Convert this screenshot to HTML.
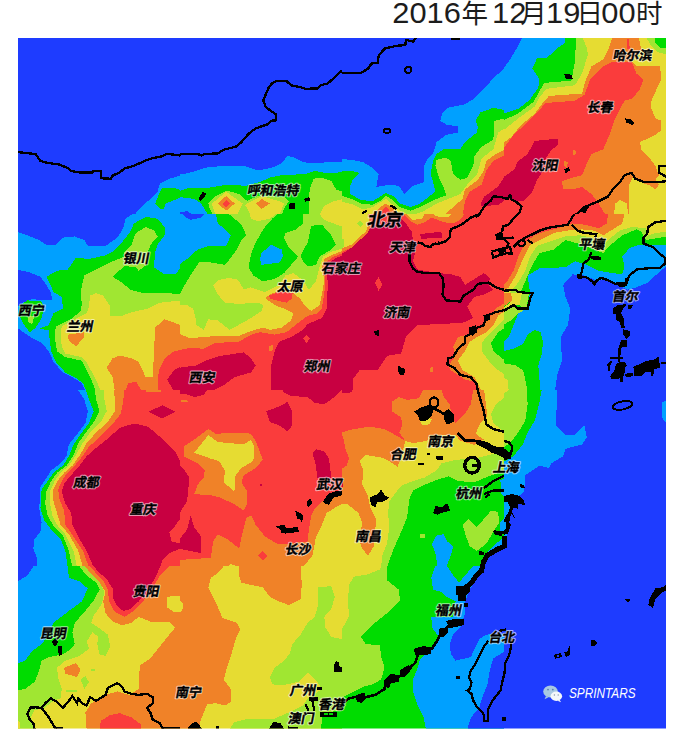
<!DOCTYPE html>
<html lang="zh"><head><meta charset="utf-8"><title>SPRINTARS 2016年12月19日00时</title>
<style>
html,body{margin:0;padding:0;background:#fff}
body{width:685px;height:744px;overflow:hidden;position:relative}
svg{display:block}
.t{font-family:"Liberation Sans","Noto Sans CJK SC",sans-serif;}
.lh,.lf{font-family:"Liberation Sans","Noto Sans CJK SC",sans-serif;font-weight:bold;font-size:13px}
.lh{fill:#fff;fill-opacity:.6;stroke:#fff;stroke-opacity:.6;stroke-width:2.4px;stroke-linejoin:round}
.lf{fill:#000;stroke:#000;stroke-width:.4px;stroke-linejoin:round}
.lbig{font-size:17.6px}
</style></head><body>
<svg width="685" height="744" viewBox="0 0 685 744">
<rect width="685" height="744" fill="#fff"/>
<defs><clipPath id="mapclip"><rect x="18" y="38" width="648" height="690.6"/></clipPath></defs>
<g clip-path="url(#mapclip)" shape-rendering="crispEdges">
<!-- tile 0,0 -->
<svg x="18" y="38" width="162" height="176" viewBox="0 0 685 744" preserveAspectRatio="none" overflow="hidden">
<rect x="-5" y="-5" width="695" height="754" fill="#1e3cff"/>
<polygon fill="#00a0ff" points="490,750 520,715 560,680 590,650 600,615 640,595 690,580 690,750"/>
<polygon fill="#00dc00" points="580,700 600,650 610,635 660,632 690,645 690,672 650,690 625,700 615,725 600,720"/>
<polyline fill="none" stroke="#000" stroke-width="9.8" points="-5,482 45,487 75,492 95,520 125,528 175,535 210,550 225,562 260,568 315,568 320,561 350,561 352,593 392,595 400,582 430,568 450,552 490,540 540,518 570,508 610,500 630,490 650,492 690,497"/>
</svg>
<!-- tile 1,0 -->
<svg x="180" y="38" width="162" height="176" viewBox="0 0 685 744" preserveAspectRatio="none" overflow="hidden">
<rect x="-5" y="-5" width="695" height="754" fill="#1e3cff"/>
<polygon fill="#00a0ff" points="-5,578 40,570 110,548 190,540 270,540 330,560 390,548 430,530 455,498 480,505 520,525 570,530 620,525 690,522 690,750 -5,750"/>
<polygon fill="#00dc00" points="-5,648 40,632 110,635 200,620 280,625 340,608 380,590 430,580 530,575 570,562 610,570 650,572 690,565 690,750 -5,750"/>
<polygon fill="#00a0ff" points="-5,672 60,680 90,700 120,750 -5,750"/>
<polygon fill="#1e3cff" points="-5,738 30,732 60,750 -5,750"/>
<polygon fill="#a0e632" points="120,700 150,670 200,645 250,660 285,690 300,680 340,665 400,670 440,672 460,690 440,720 430,750 140,750 125,720"/>
<polygon fill="#e6dc32" points="135,700 195,650 265,700 240,750 150,750"/>
<polygon fill="#f08228" points="160,700 195,668 232,700 195,730"/>
<polygon fill="#fa3c3c" points="180,700 195,685 212,700 195,715"/>
<polygon fill="#e6dc32" points="275,705 345,668 420,690 440,700 420,750 300,750"/>
<polygon fill="#f08228" points="322,700 345,680 380,700 345,722"/>
<polygon fill="#a0e632" points="545,750 548,640 565,595 600,590 640,605 660,640 690,650 690,750"/>
<polygon fill="#e6dc32" points="590,750 610,710 650,690 690,680 690,750"/>
<polyline fill="none" stroke="#000" stroke-width="9.8" points="-5,492 75,490 90,497 105,490 160,488 185,472 235,460 260,440 290,405 320,382 370,365 385,350 405,348 405,322 380,305 362,290 352,265 362,240 375,210 390,190 410,182 450,182 470,200 510,208 530,215 580,213 595,200 625,192 650,170 670,150 690,135"/>
<polygon fill="#000" points="78,678 95,652 110,655 105,672 88,690"/>
<polygon fill="#000" points="462,700 485,698 487,722 462,722"/>
<polygon fill="#000" points="525,680 545,672 552,688 530,692"/>
</svg>
<!-- tile 2,0 -->
<svg x="342" y="38" width="162" height="176" viewBox="0 0 685 744" preserveAspectRatio="none" overflow="hidden">
<rect x="-5" y="-5" width="695" height="754" fill="#1e3cff"/>
<polygon fill="#00a0ff" points="-5,512 40,515 90,525 130,550 155,575 145,630 200,620 240,625 265,660 300,625 345,610 345,545 360,515 385,490 400,440 440,410 490,400 490,372 445,368 415,350 425,315 445,295 520,280 560,255 600,215 640,170 690,125 690,750 -5,750"/>
<polygon fill="#00dc00" points="-5,560 40,562 75,570 45,600 35,625 35,660 80,685 130,690 185,655 220,670 245,700 290,715 330,700 375,665 395,650 385,610 375,575 385,520 400,490 430,470 500,470 520,440 570,400 575,375 565,350 585,315 640,295 690,305 690,750 -5,750"/>
<polygon fill="#a0e632" points="-5,665 40,680 80,700 130,705 160,690 185,665 220,690 245,715 290,730 340,710 400,680 440,665 430,630 410,590 395,540 400,515 440,505 460,520 470,575 500,600 530,590 555,540 560,500 590,460 640,430 645,350 690,340 690,750 -5,750"/>
<polygon fill="#e6dc32" points="-5,690 50,705 90,725 130,715 185,680 215,705 245,730 290,750 340,735 400,700 450,680 500,660 530,620 570,580 590,510 640,470 660,400 690,380 690,750 -5,750"/>
<polygon fill="#f08228" points="130,750 160,715 185,700 215,720 235,750"/>
<polygon fill="#fa3c3c" points="150,750 185,712 220,750"/>
<polygon fill="#f08228" points="430,750 470,715 510,680 520,640 575,600 600,560 610,520 650,490 690,470 690,750"/>
<polygon fill="#fa3c3c" points="510,750 520,690 540,650 590,620 610,560 640,520 690,495 690,750"/>
<polygon fill="#c80041" points="587,700 603,669 629,651 659,628 681,595 690,590 690,686 659,706 629,708 600,712 587,708"/>
<polyline fill="none" stroke="#000" stroke-width="9.8" points="-5,148 80,148 110,130 125,108 150,105 155,75 180,45 230,33 268,30 270,8 300,15 318,-5"/>
<polyline fill="none" stroke="#000" stroke-width="9.8" points="460,3 497,3"/>
<polyline fill="none" stroke="#000" stroke-width="9.8" points="85,742 105,730"/>
<polyline fill="none" stroke="#000" stroke-width="9.8" points="205,708 230,722"/>
<ellipse cx="280" cy="135" rx="13" ry="13" fill="none" stroke="#000" stroke-width="8"/>
<ellipse cx="190" cy="392" rx="14" ry="9" fill="none" stroke="#000" stroke-width="8"/>
</svg>
<!-- tile 3,0 -->
<svg x="504" y="38" width="162" height="176" viewBox="0 0 685 744" preserveAspectRatio="none" overflow="hidden">
<rect x="-5" y="-5" width="695" height="754" fill="#fa3c3c"/>
<polygon fill="#e6dc32" points="330,-5 690,-5 690,750 525,750 525,600 460,0"/>
<polygon fill="#f08228" points="460,-5 570,-5 580,50 540,100 560,120 660,120 665,175 625,260 620,290 640,340 665,350 665,390 640,410 575,440 580,470 610,500 640,540 655,580 640,600 655,620 640,640 620,625 590,615 545,590 530,620 530,750 200,750 200,300 400,100"/>
<polygon fill="#e6dc32" points="465,750 470,700 490,685 520,700 525,750"/>
<polygon fill="#f08228" points="-5,-5 470,-5 440,60 400,120 365,190 340,250 300,275 175,285 150,320 100,365 40,420 -5,490"/>
<polygon fill="#e6dc32" points="-5,-5 460,-5 440,50 420,90 370,120 345,180 330,235 190,245 160,280 130,320 70,370 30,420 -5,445"/>
<polygon fill="#a0e632" points="-5,-5 330,-5 350,40 355,70 330,150 300,200 180,215 150,250 130,290 60,340 -5,392"/>
<polygon fill="#00dc00" points="-5,-5 305,-5 300,100 285,180 170,190 125,270 60,318 -5,350"/>
<polygon fill="#00a0ff" points="-5,-5 260,-5 260,20 230,40 180,85 140,85 120,130 150,175 145,210 110,260 60,300 -5,320"/>
<polygon fill="#1e3cff" points="-5,-5 80,-5 50,50 20,100 -5,132"/>
<polygon fill="#fa3c3c" points="480,100 540,100 560,150 590,175 575,215 545,255 510,265 490,300 470,340 450,400 420,470 370,490 350,530 330,580 290,590 245,605 250,640 290,640 330,630 370,660 400,700 430,750 -5,750 -5,470 40,410 100,355 150,305 175,275 300,265 340,240 365,175 420,120 460,100"/>
<polygon fill="#fa3c3c" points="518,5 528,5 532,45 520,45"/>
<polygon fill="#c80041" points="-5,590 45,555 55,525 100,490 130,435 230,425 228,450 195,480 170,520 160,570 140,600 120,650 85,688 55,688 25,681 -5,686"/>
<polygon fill="#f08228" points="290,470 305,480 300,497 290,492"/>
<polygon fill="#f08228" points="255,520 270,525 265,548 255,540"/>
<polygon fill="#a0e632" points="600,-5 690,-5 690,70 650,60 620,30"/>
<polygon fill="#00dc00" points="635,-5 690,-5 690,45 660,40 640,20"/>
<polyline fill="none" stroke="#000" stroke-width="9.8" points="300,750 340,715 400,690 440,670 460,640 490,610 510,580 540,570 555,595 590,608 640,610 690,605"/>
<polyline fill="none" stroke="#000" stroke-width="9.8" points="690,540 655,540 655,570 690,588"/>
<polygon fill="#000" points="255,152 285,155 292,175 262,175"/>
<polygon fill="#000" points="510,340 535,342 552,358 545,368 518,358"/>
<polygon fill="#000" points="255,555 275,545 278,560 260,572"/>
<polygon fill="#000" points="325,735 345,705 360,712 345,740"/>
</svg>
<!-- tile 0,1 -->
<svg x="18" y="214" width="162" height="176" viewBox="0 0 685 744" preserveAspectRatio="none" overflow="hidden">
<rect x="-5" y="-5" width="695" height="754" fill="#1e3cff"/>
<polygon fill="#00a0ff" points="-5,75 40,90 90,110 120,130 160,130 190,100 240,95 280,110 295,135 370,135 420,100 445,60 455,20 490,-5 690,-5 690,750 -5,750"/>
<polygon fill="#1e3cff" points="-5,235 45,245 95,265 120,300 140,335 145,365 110,365 60,360 20,375 -5,395"/>
<polygon fill="#1e3cff" points="-5,480 30,505 60,525 100,545 130,580 150,625 190,670 230,690 270,715 285,750 -5,750"/>
<polygon fill="#00dc00" points="490,40 540,12 590,20 620,55 620,90 590,130 580,160 575,225 620,255 665,255 690,225 690,750 290,750 275,715 240,690 200,670 160,625 140,580 135,540 130,490 95,487 95,482 130,470 150,420 190,400 185,350 150,330 135,295 120,265 165,240 210,235 245,185 300,190 370,175 400,160 440,120 475,75"/>
<polygon fill="#00dc00" points="10,385 40,365 100,370 110,395 100,440 75,480 50,500 20,460 5,430"/>
<polygon fill="#a0e632" points="40,435 70,430 60,465 45,460"/>
<polygon fill="#a0e632" points="500,80 540,55 575,70 590,95 560,130 550,160 550,210 510,240 500,225 450,220 400,265 440,290 475,320 530,335 640,335 690,340 690,750 330,750 310,700 290,660 270,620 200,605 165,580 155,520 160,475 190,460 230,440 265,410 270,380 265,330 280,260 330,235 400,200 450,180 450,160 480,130 490,100"/>
<polygon fill="#e6dc32" points="305,345 330,335 360,345 390,390 390,430 440,430 480,415 550,400 600,375 690,365 690,750 350,750 330,700 305,655 290,625 270,605 200,590 185,560 180,500 185,475 215,460 250,440 290,420 300,390"/>
<polygon fill="#f08228" points="210,510 280,500 280,520 245,560 215,535"/>
<polygon fill="#f08228" points="375,650 400,610 430,598 480,610 510,625 540,690 570,690 580,480 620,445 690,470 690,750 410,750 400,690"/>
<polygon fill="#fa3c3c" points="455,750 465,715 500,710 525,750"/>
<polygon fill="#fa3c3c" points="590,750 595,660 620,610 660,580 690,575 690,750"/>
<polygon fill="#c80041" points="630,700 660,660 690,645 690,750 660,750"/>
</svg>
<!-- tile 1,1 -->
<svg x="180" y="214" width="162" height="176" viewBox="0 0 685 744" preserveAspectRatio="none" overflow="hidden">
<rect x="-5" y="-5" width="695" height="754" fill="#a0e632"/>
<polygon fill="#00dc00" points="-5,215 30,190 75,150 120,135 195,135 215,90 185,60 160,40 150,-5 200,-5 230,20 260,45 280,90 260,110 240,150 215,185 190,215 130,205 80,205 50,250 20,300 -5,345"/>
<polygon fill="#00a0ff" points="-5,-5 150,-5 160,40 185,60 215,90 195,135 120,135 75,150 30,190 -5,215"/>
<polygon fill="#1e3cff" points="10,-5 110,-5 90,15 45,25 20,12"/>
<polygon fill="#00dc00" points="355,60 390,20 420,-5 520,-5 520,40 490,65 445,80 440,100 460,140 500,180 470,215 440,250 400,275 350,285 310,260 290,225 300,170 320,120"/>
<polygon fill="#00a0ff" points="345,165 385,130 430,150 435,180 420,205 345,215 338,190"/>
<polygon fill="#00dc00" points="510,175 540,120 555,50 600,45 640,90 660,130 640,150 590,180 575,215 540,222 520,200"/>
<polygon fill="#e6dc32" points="295,-5 410,-5 380,20 330,30 300,20"/>
<polygon fill="#e6dc32" points="585,-5 690,-5 690,55 650,40 610,25"/>
<polygon fill="#e6dc32" points="-5,385 30,385 55,400 65,435 70,470 100,490 120,445 160,450 210,490 250,468 300,440 345,410 352,385 330,375 250,380 190,375 160,340 140,300 160,280 210,270 245,278 270,320 300,310 360,330 420,300 445,260 480,250 520,280 545,320 575,285 590,225 605,180 640,160 690,145 690,750 -5,750"/>
<polygon fill="#f08228" points="-5,505 40,525 100,520 160,515 250,515 300,495 350,480 380,490 430,480 470,450 480,420 440,400 400,385 360,355 390,335 430,325 480,335 510,360 530,390 555,410 590,385 600,340 610,280 600,225 610,190 650,170 690,155 690,750 -5,750"/>
<polygon fill="#fa3c3c" points="-5,575 50,565 100,570 150,545 250,540 300,510 340,500 400,510 450,500 500,460 540,430 580,420 600,400 615,300 610,210 650,180 690,165 690,750 -5,750"/>
<polygon fill="#fa3c3c" points="377,345 424,328 476,336 472,358 450,375 416,367 381,358"/>
<polygon fill="#c80041" points="-5,650 70,640 110,620 170,600 270,585 300,610 320,640 300,670 230,690 190,720 130,750 -5,750"/>
<polygon fill="#c80041" points="385,750 385,640 400,580 420,540 470,520 520,490 540,465 600,440 620,400 625,300 620,215 660,185 690,175 690,750"/>
<polygon fill="#fa3c3c" points="520,525 535,510 550,525 535,545"/>
<polygon fill="#f08228" points="375,560 395,550 395,575 378,580"/>
</svg>
<!-- tile 2,1 -->
<svg x="342" y="214" width="162" height="176" viewBox="0 0 685 744" preserveAspectRatio="none" overflow="hidden">
<rect x="-5" y="-5" width="695" height="754" fill="#fa3c3c"/>
<polygon fill="#c80041" points="-5,170 30,150 60,110 100,80 130,50 250,20 270,40 295,75 300,110 320,120 310,160 300,200 320,235 410,250 460,255 500,265 520,300 560,275 600,250 625,270 620,300 640,320 600,340 560,350 530,390 555,440 510,460 320,470 270,520 250,590 190,600 150,660 75,660 45,700 45,750 -5,750"/>
<polygon fill="#c80041" points="330,85 420,75 425,100 335,105"/>
<polygon fill="#f08228" points="-5,-5 120,-5 125,45 105,85 75,110 45,140 -5,162"/>
<polygon fill="#e6dc32" points="-5,-5 110,-5 115,40 100,75 70,100 40,130 -5,147"/>
<polygon fill="#a0e632" points="65,40 78,28 92,42 78,55"/>
<polygon fill="#a0e632" points="-5,100 10,110 10,140 -5,145"/>
<polygon fill="#f08228" points="255,-5 520,-5 500,25 470,40 430,35 380,15 350,35 320,45 290,30"/>
<polygon fill="#e6dc32" points="265,-5 350,-5 340,20 300,25"/>
<polygon fill="#e6dc32" points="380,-5 470,-5 450,15 400,10"/>
<polygon fill="#f08228" points="690,375 650,400 620,440 590,480 560,500 530,510 490,520 470,560 480,600 450,640 460,660 520,700 560,710 580,750 690,750"/>
<polygon fill="#e6dc32" points="690,410 660,430 640,470 610,500 570,520 540,540 520,580 490,620 510,660 560,690 590,750 690,750"/>
<polygon fill="#a0e632" points="690,440 660,470 620,510 590,545 590,580 620,620 660,660 690,680"/>
<polygon fill="#00dc00" points="690,480 660,500 630,545 640,580 690,620"/>
<polygon fill="#fa3c3c" points="140,290 155,265 170,300 155,325"/>
<polygon fill="#f08228" points="370,650 385,648 385,668 370,668"/>
<polyline fill="none" stroke="#000" stroke-width="9.8" points="590,-5 545,15 505,45 460,65 455,100 440,115 410,125 380,130 375,140 350,135 340,125 320,120"/>
<polyline fill="none" stroke="#000" stroke-width="9.8" points="285,165 285,200 300,230 320,245 360,250 410,250 425,270 430,300 425,340 440,365 500,370 515,345 555,320 575,295 620,290 650,310 690,322"/>
<polyline fill="none" stroke="#000" stroke-width="9.8" points="690,405 650,415 610,430 600,470 560,485 545,505 520,520 520,545 490,570 470,605 450,610 445,635 475,650 500,680 545,690 570,720 575,750"/>
<polyline fill="none" stroke="#000" stroke-width="5" points="395,130 395,118"/>
<polyline fill="none" stroke="#000" stroke-width="5" points="408,128 408,116"/>
<polygon fill="#000" points="135,495 158,490 158,515 140,512"/>
<polygon fill="#000" points="238,640 250,650 268,655 262,680 245,682 238,665"/>
<polygon fill="#000" points="535,480 565,470 572,500 550,515 535,505"/>
<polygon fill="#000" points="598,428 625,420 628,445 605,455"/>
</svg>
<!-- tile 3,1 -->
<svg x="504" y="214" width="162" height="176" viewBox="0 0 685 744" preserveAspectRatio="none" overflow="hidden">
<rect x="-5" y="-5" width="695" height="754" fill="#1e3cff"/>
<polygon fill="#00a0ff" points="-5,-5 690,-5 690,218 640,260 610,290 560,310 520,320 470,290 430,270 400,285 340,260 290,255 250,300 260,350 280,400 270,470 240,520 245,620 225,680 215,750 -5,750"/>
<polygon fill="#00dc00" points="-5,-5 690,-5 690,130 570,130 530,145 500,180 510,220 500,255 460,250 400,240 350,215 300,200 260,225 150,230 100,260 110,330 100,395 60,420 40,470 20,520 -5,545"/>
<polygon fill="#00dc00" points="-5,580 40,570 80,550 100,510 130,490 155,500 165,540 160,590 145,640 150,700 155,750 -5,750"/>
<polygon fill="#a0e632" points="-5,630 50,640 80,660 90,700 100,750 -5,750"/>
<polygon fill="#e6dc32" points="-5,690 15,700 20,750 -5,750"/>
<polygon fill="#a0e632" points="-5,-5 690,-5 690,95 600,110 580,75 560,65 500,90 440,140 420,165 330,130 260,110 210,150 150,165 120,215 100,260 75,320 30,360 -5,380"/>
<polygon fill="#e6dc32" points="-5,-5 690,-5 690,75 640,80 600,95 600,60 540,55 490,70 440,110 420,135 370,100 320,90 260,95 200,115 140,135 110,180 90,240 60,290 20,340 -5,360"/>
<polygon fill="#f08228" points="-5,-5 510,-5 500,40 460,65 420,90 380,70 330,65 270,70 210,80 150,110 110,130 80,190 50,260 20,310 -5,330"/>
<polygon fill="#fa3c3c" points="-5,-5 440,-5 435,40 400,60 340,45 290,40 230,60 170,75 130,90 90,120 60,180 40,240 10,290 -5,300"/>
<polygon fill="#a0e632" points="-5,400 40,385 60,400 100,398 60,420 30,450 -5,470"/>
<polygon fill="#f08228" points="-5,335 40,332 35,365 -5,395"/>
<polygon fill="#e6dc32" points="30,335 80,335 70,385 40,385 -5,400 35,365"/>
<polygon fill="#a0e632" points="75,338 105,340 95,395 65,390"/>
<polyline fill="none" stroke="#000" stroke-width="9.8" points="40,140 62,118 92,99 122,85 152,70 188,58 240,50 270,45 285,20 300,-5"/>
<polyline fill="none" stroke="#000" stroke-width="9.8" points="285,45 310,70 340,80 390,85 385,100"/>
<polyline fill="none" stroke="#000" stroke-width="9.8" points="370,160 360,190 335,210 330,240 320,270 345,265 380,290 410,270 440,280 470,295 500,300 520,290 515,270"/>
<polyline fill="none" stroke="#000" stroke-width="9.8" points="515,300 530,260 560,235 600,230 660,228 680,210 680,185 650,160 630,140 590,125 590,100 605,85 610,55 640,35 690,28"/>
<polyline fill="none" stroke="#000" stroke-width="9.8" points="-5,325 50,320 60,330 120,335 110,360 100,400 60,400 40,385 -5,412"/>
<polygon fill="#000" points="365,178 410,180 410,195 370,192"/>
<polygon fill="#000" points="310,255 330,250 325,275 310,272"/>
<polygon fill="#000" points="370,290 395,285 385,305"/>
<polygon fill="#000" points="470,290 520,285 520,305 490,310"/>
</svg>
<!-- tile 0,2 -->
<svg x="18" y="390" width="162" height="176" viewBox="0 0 685 744" preserveAspectRatio="none" overflow="hidden">
<rect x="-5" y="-5" width="695" height="754" fill="#1e3cff"/>
<polygon fill="#00a0ff" points="250,-5 280,40 295,90 285,140 255,180 215,230 205,280 180,310 140,340 115,380 95,410 90,500 100,560 95,600 70,630 65,670 80,710 80,750 690,750 690,-5"/>
<polygon fill="#00dc00" points="285,-5 300,40 320,90 300,140 270,180 235,230 215,280 190,320 150,350 125,385 100,420 95,500 110,550 140,590 180,630 200,680 210,750 690,750 690,-5"/>
<polygon fill="#a0e632" points="325,-5 330,40 345,90 325,130 290,175 255,225 235,275 205,320 165,350 140,385 120,430 115,480 125,530 150,575 190,615 215,680 230,750 690,750 690,-5"/>
<polygon fill="#e6dc32" points="365,-5 365,40 375,90 350,135 305,180 270,230 245,275 215,320 180,350 155,385 135,430 135,480 145,530 165,570 200,610 235,680 250,750 690,750 690,-5"/>
<polygon fill="#f08228" points="405,-5 410,45 410,90 380,135 330,180 290,225 265,270 230,320 195,350 170,380 150,420 150,470 165,520 180,570 215,610 255,680 275,750 690,750 690,-5"/>
<polygon fill="#fa3c3c" points="450,-5 445,45 435,100 395,150 345,200 300,240 280,270 240,320 205,355 185,385 170,420 175,460 195,510 200,570 235,620 275,680 300,750 690,750 690,-5"/>
<polygon fill="#c80041" points="480,145 430,160 380,205 330,245 290,280 260,320 220,365 195,395 185,430 200,480 225,520 230,570 260,630 290,680 320,750 600,750 610,720 640,690 690,668 690,650 650,640 640,600 660,580 690,538 690,310 665,260 620,215 580,180 550,155 510,145"/>
<polygon fill="#c80041" points="550,92 610,65 665,92 610,120"/>
<polygon fill="#f08228" points="540,-5 605,-5 605,8 540,8"/>
</svg>
<!-- tile 1,2 -->
<svg x="180" y="390" width="162" height="176" viewBox="0 0 685 744" preserveAspectRatio="none" overflow="hidden">
<rect x="-5" y="-5" width="695" height="754" fill="#fa3c3c"/>
<polygon fill="#c80041" points="-5,-5 120,-5 100,20 60,30 20,15 -5,18"/>
<polygon fill="#c80041" points="430,-5 690,-5 640,40 610,60 570,55 540,30 470,25 440,10"/>
<polygon fill="#c80041" points="365,90 430,65 455,50 475,90 475,150 455,175 420,150 380,135"/>
<polygon fill="#c80041" points="560,265 575,250 610,260 630,290 640,370 580,370 575,320"/>
<polygon fill="#c80041" points="-5,315 20,340 40,370 30,470 -5,525"/>
<polygon fill="#c80041" points="-5,635 30,590 45,530 60,580 90,620 90,690 40,680 -5,670"/>
<polygon fill="#f08228" points="15,240 60,210 120,165 150,185 260,180 300,185 320,215 350,295 320,330 270,360 260,390 285,430 285,480 270,510 225,480 170,455 130,445 60,440 75,400 100,370 105,340 75,310 15,280"/>
<polygon fill="#e6dc32" points="60,265 120,190 160,220 270,230 300,210 315,240 310,300 260,330 235,360 230,430 185,390 190,340 165,300 130,290"/>
<polygon fill="#f08228" points="-5,750 -5,720 40,715 130,710 140,640 160,610 200,630 250,670 265,600 280,540 300,530 320,570 360,620 410,650 450,650 540,640 545,590 555,530 570,500 600,470 640,455 690,440 690,750"/>
<polygon fill="#e6dc32" points="520,750 560,700 575,620 600,570 620,520 660,495 690,480 690,750"/>
<polygon fill="#e6dc32" points="200,750 215,735 250,750"/>
<polygon fill="#fa3c3c" points="330,700 350,680 370,700 350,720"/>
<polygon fill="#f08228" points="5,40 35,45 35,52 5,50"/>
<polygon fill="#c80041" points="338,397 348,397 348,407 338,407"/>
<polygon fill="#000" points="540,465 555,460 557,480 542,495 535,485"/>
<polygon fill="#000" points="488,512 500,515 522,530 515,562 508,545 495,545"/>
<polygon fill="#000" points="403,578 440,568 450,585 500,578 502,600 445,607 428,605 425,590"/>
<polygon fill="#000" points="605,470 625,440 650,430 685,425 685,445 650,455 630,485 612,480"/>
</svg>
<!-- tile 2,2 -->
<svg x="342" y="390" width="162" height="176" viewBox="0 0 685 744" preserveAspectRatio="none" overflow="hidden">
<rect x="-5" y="-5" width="695" height="754" fill="#e6dc32"/>
<polygon fill="#f08228" points="-5,-5 600,-5 615,110 585,140 565,185 600,210 560,232 500,215 480,190 370,190 360,215 300,225 268,215 245,300 235,325 200,300 165,285 100,275 75,300 90,340 85,400 110,450 120,500 145,545 140,600 135,660 110,700 85,670 75,640 85,560 70,520 20,480 -5,480"/>
<polygon fill="#e6dc32" points="325,120 360,110 380,125 370,145 340,150"/>
<polygon fill="#fa3c3c" points="-5,-5 345,-5 325,35 275,42 240,30 210,50 210,90 250,115 255,150 242,180 268,215 225,190 180,165 120,155 50,165 -5,180"/>
<polygon fill="#fa3c3c" points="420,-5 555,-5 545,60 520,100 480,140 465,110 455,60 430,30"/>
<polygon fill="#fa3c3c" points="-5,180 5,200 15,250 30,290 20,320 -5,335"/>
<polygon fill="#c80041" points="-5,-5 45,-5 40,10 -5,15"/>
<polygon fill="#c80041" points="-5,380 5,385 5,410 -5,410"/>
<polygon fill="#a0e632" points="690,30 650,60 630,100 640,140 690,180"/>
<polygon fill="#a0e632" points="690,240 640,270 560,290 480,295 420,310 400,340 350,370 300,385 250,405 230,430 200,470 195,520 200,580 190,650 170,700 165,750 690,750"/>
<polygon fill="#00dc00" points="690,340 620,365 560,390 490,385 450,365 400,380 350,400 300,425 285,460 275,540 250,600 215,680 190,750 690,750"/>
<polygon fill="#a0e632" points="510,570 535,545 570,580 600,545 630,510 660,515 665,560 640,600 610,650 570,680 540,660 525,620"/>
<polygon fill="#a0e632" points="330,610 350,608 350,625 330,625"/>
<polygon fill="#00a0ff" points="380,650 400,615 430,610 445,640 470,660 460,700 440,750 405,750 395,690"/>
<polygon fill="#00a0ff" points="670,380 690,375 690,450 672,440"/>
<polygon fill="#00a0ff" points="690,540 670,560 670,600 690,610"/>
<polygon fill="#00a0ff" points="690,620 650,650 610,690 580,750 690,750"/>
<polygon fill="#1e3cff" points="690,650 640,690 600,730 590,750 690,750"/>
<polyline fill="none" stroke="#000" stroke-width="9.8" points="572,-5 585,40 600,90 610,145 640,165 680,175 690,180"/>
<polyline fill="none" stroke="#000" stroke-width="12" points="490,182 520,215 560,215 600,222 620,242 650,252 690,268"/>
<polyline fill="none" stroke="#000" stroke-width="9.8" points="600,415 640,385 690,360"/>
<polyline fill="none" stroke="#000" stroke-width="9.8" points="600,440 640,425 690,425"/>
<polyline fill="none" stroke="#000" stroke-width="9.8" points="605,455 625,440"/>
<polygon fill="#000" points="398,280 425,278 425,295 400,295"/>
<polygon fill="#000" points="358,265 372,268 372,276 358,274"/>
<polygon fill="#000" points="322,308 345,310 345,317 322,315"/>
<polygon fill="#000" points="118,455 150,440 165,422 182,445 200,455 180,470 150,475 140,497 122,485"/>
<polygon fill="#000" points="385,520 395,490 420,497 445,478 458,510 420,520 405,528"/>
<polygon fill="#000" points="660,240 690,240 690,290 665,275"/>
<ellipse cx="550" cy="318" rx="31" ry="33" fill="none" stroke="#000" stroke-width="14"/>
<rect x="548" y="312" width="26" height="14" fill="#000"/>
</svg>
<!-- tile 3,2 -->
<svg x="504" y="390" width="162" height="176" viewBox="0 0 685 744" preserveAspectRatio="none" overflow="hidden">
<rect x="-5" y="-5" width="695" height="754" fill="#1e3cff"/>
<polygon fill="#00a0ff" points="150,-5 225,-5 220,150 260,190 300,190 340,150 350,200 330,230 290,240 260,250 250,280 200,310 190,330 150,320 120,340 90,360 85,430 60,450 30,520 10,620 -5,630 -5,-5"/>
<polygon fill="#00dc00" points="90,-5 160,-5 150,50 130,130 100,180 80,230 40,280 -5,305 -5,-5"/>
<polygon fill="#a0e632" points="-5,-5 95,-5 100,60 90,130 60,180 30,220 -5,245"/>
<polygon fill="#e6dc32" points="-5,-5 20,-5 10,10 -5,12"/>
<polygon fill="#00a0ff" points="670,50 690,45 690,145 670,120"/>
<polyline fill="none" stroke="#000" stroke-width="9.8" points="-5,215 20,220 35,240 30,270 10,290 -5,290"/>
<polygon fill="#000" points="68,398 85,402 88,414 70,412"/>
<polygon fill="#000" points="-5,450 30,440 60,445 85,465 88,487 62,480 58,502 42,497 32,512 45,540 28,572 18,605 -5,615 -5,560 10,530 5,500 -5,480"/>
<polygon fill="#000" points="-5,640 10,648 10,668 -5,668"/>
<ellipse cx="502" cy="65" rx="42" ry="17" transform="rotate(-12 502 65)" fill="none" stroke="#000" stroke-width="8"/>
<polygon fill="#00a0ff" points="-5,476 14,472 26,498 14,528 -5,534"/>
<polygon fill="#00a0ff" points="-5,560 8,556 10,585 -5,600"/>
<polygon fill="#1e3cff" points="30,520 44,542 30,570 22,560"/>
</svg>
<!-- tile 0,3 -->
<svg x="18" y="566" width="162" height="176" viewBox="0 0 685 744" preserveAspectRatio="none" overflow="hidden">
<rect x="-5" y="-5" width="695" height="754" fill="#e6dc32"/>
<polygon fill="#a0e632" points="-5,-5 280,-5 320,40 350,75 365,110 355,160 320,210 310,240 340,260 380,290 390,340 370,380 345,375 335,330 340,300 315,280 290,320 300,350 260,380 200,400 165,430 170,475 185,520 180,560 150,570 110,600 70,610 55,640 70,690 -5,690"/>
<polygon fill="#a0e632" points="265,480 285,465 300,490 280,520"/>
<polygon fill="#a0e632" points="205,525 250,525 250,531 205,531"/>
<polygon fill="#a0e632" points="308,435 325,435 325,442 308,442"/>
<polygon fill="#e6dc32" points="-5,655 10,660 10,690 -5,690"/>
<polygon fill="#00dc00" points="-5,-5 255,-5 290,40 330,70 345,100 320,145 280,195 240,240 230,280 240,330 220,355 185,375 130,385 100,400 90,440 70,490 30,520 -5,525"/>
<polygon fill="#00a0ff" points="-5,-5 210,-5 215,50 260,65 295,95 270,150 215,190 150,240 130,290 100,330 60,360 30,400 -5,412"/>
<polygon fill="#1e3cff" points="-5,-5 70,-5 40,40 -5,67"/>
<polygon fill="#f08228" points="280,-5 690,-5 690,690 290,690 285,620 310,580 370,545 420,530 470,545 510,520 515,420 560,390 600,340 640,290 665,260 640,235 560,235 510,215 480,240 440,250 400,235 370,200 360,150 370,110 345,70 310,35"/>
<polygon fill="#f08228" points="195,430 245,410 265,440 250,470 200,455"/>
<polygon fill="#e6dc32" points="630,130 690,125 690,195 660,195 630,175"/>
<polygon fill="#fa3c3c" points="300,-5 645,-5 600,40 560,110 520,160 490,190 450,215 410,195 385,150 380,100 360,60 325,25"/>
<polygon fill="#c80041" points="315,-5 605,-5 580,50 545,110 510,150 470,185 445,190 420,170 400,130 400,95 375,55 340,25"/>
<polygon fill="#fa3c3c" points="345,690 350,655 390,630 430,622 480,640 520,670 520,690"/>
<polyline fill="none" stroke="#000" stroke-width="9.8" points="70,690 65,665 50,650 40,625 55,595 100,600 115,580 140,560 165,575 190,600 215,570 230,550 250,580 255,560 270,580 290,590 305,555 330,570 370,545 380,515 420,495 440,510 450,530 480,540 510,545 545,540 570,555 570,580 545,600 560,620 570,650 600,665 612,690"/>
<polyline fill="none" stroke="#000" stroke-width="9.8" points="100,600 130,640 160,690"/>
<polyline fill="none" stroke="#000" stroke-width="9.8" points="55,595 65,600"/>
<polyline fill="none" stroke="#000" stroke-width="9.8" points="160,684 190,684"/>
<polyline fill="none" stroke="#000" stroke-width="9.8" points="610,686 690,686"/>
<polygon fill="#000" points="145,320 160,305 170,320 160,338 148,335"/>
<polygon fill="#000" points="170,340 186,340 186,375 172,382"/>
<polygon fill="#000" points="52,590 70,590 70,605 52,605"/>
</svg>
<!-- tile 1,3 -->
<svg x="180" y="566" width="162" height="176" viewBox="0 0 685 744" preserveAspectRatio="none" overflow="hidden">
<rect x="-5" y="-5" width="695" height="754" fill="#e6dc32"/>
<polygon fill="#f08228" points="-5,-5 190,-5 160,30 130,50 120,90 150,150 180,220 240,240 255,270 235,310 215,380 195,440 185,480 215,520 215,575 190,590 150,580 115,585 100,620 85,660 80,690 -5,690"/>
<polygon fill="#e6dc32" points="-5,140 12,160 10,190 -5,195"/>
<polygon fill="#f08228" points="250,-5 510,-5 515,80 510,140 460,165 420,150 380,130 350,90 300,80 260,70 250,40"/>
<polygon fill="#a0e632" points="585,90 640,85 655,130 640,180 610,215 615,260 640,300 690,310 690,690 210,690 230,660 290,645 400,645 470,615 520,590 540,560 600,520 580,490 540,450 500,490 430,505 390,500 380,470 400,430 440,400 465,370 475,330 510,290 540,240 570,215 585,160"/>
<polygon fill="#00dc00" points="605,620 690,610 690,690 595,690"/>
<polyline fill="none" stroke="#000" stroke-width="9.8" points="578,518 602,518"/>
<polyline fill="none" stroke="#000" stroke-width="9.8" points="560,570 568,612"/>
<polyline fill="none" stroke="#000" stroke-width="9.8" points="530,585 545,612"/>
<polygon fill="#000" points="650,420 660,403 672,405 675,425 690,430 690,450 650,450"/>
<polygon fill="#000" points="545,555 582,555 582,572 545,572"/>
<polygon fill="#000" points="590,618 662,618 662,637 590,637"/>
<polygon fill="#000" points="30,690 50,665 70,658 95,690"/>
<polygon fill="#000" points="152,678 165,678 165,690 152,690"/>
<polygon fill="#000" points="375,690 395,658 425,665 442,690"/>
<polygon fill="#000" points="455,678 500,682 500,690 455,690"/>
<rect x="610" y="623" width="14" height="8" fill="#00dc00"/><rect x="632" y="623" width="14" height="8" fill="#00dc00"/>
</svg>
<!-- tile 2,3 -->
<svg x="342" y="566" width="162" height="176" viewBox="0 0 685 744" preserveAspectRatio="none" overflow="hidden">
<rect x="-5" y="-5" width="695" height="754" fill="#00dc00"/>
<polygon fill="#a0e632" points="-5,-5 190,-5 190,60 240,100 245,145 190,200 140,240 100,280 80,300 100,330 160,335 165,380 180,430 165,480 130,500 90,510 50,530 -5,560"/>
<polygon fill="#e6dc32" points="-5,-5 170,-5 160,15 110,35 50,45 30,80 25,150 30,210 10,250 -5,270"/>
<polygon fill="#00a0ff" points="395,-5 440,-5 470,40 495,70 520,40 560,-5 690,-5 690,690 355,690 345,640 320,590 300,530 300,480 320,430 330,395 390,340 410,300 380,260 378,215 470,215 480,150 440,130 420,110 385,100 378,50"/>
<polygon fill="#1e3cff" points="600,-5 690,-5 690,290 640,288 610,290 580,310 560,350 545,385 480,400 460,370 455,330 470,290 500,260 520,200 520,150 540,100 570,50"/>
<polygon fill="#1e3cff" points="690,360 640,390 625,440 615,500 595,550 580,600 545,640 530,690 690,690"/>
<polyline fill="none" stroke="#000" stroke-width="11" points="-5,585 30,560 70,550 100,555 140,545 180,520 185,490 240,470 260,450 310,410 320,380 310,360 340,345 380,350 400,320 420,280 450,255 480,240 510,235"/>
<polygon fill="#000" points="305,350 345,338 378,345 375,372 340,378 310,378"/>
<polygon fill="#000" points="245,440 280,420 300,430 265,470 248,468"/>
<polygon fill="#000" points="175,485 205,455 245,462 240,488 205,498 200,515 180,512"/>
<polygon fill="#000" points="60,545 95,535 100,560 85,578 62,575"/>
<polygon fill="#000" points="440,232 485,222 515,225 515,250 480,258 455,262"/>
<polygon fill="#000" points="410,265 445,258 450,280 430,300 412,298"/>
<polygon fill="#000" points="-5,560 10,555 10,590 -5,600"/>
</svg>
<!-- tile 3,3 -->
<svg x="504" y="566" width="162" height="176" viewBox="0 0 685 744" preserveAspectRatio="none" overflow="hidden">
<rect x="-5" y="-5" width="695" height="754" fill="#1e3cff"/>
<polygon fill="#000" points="610,165 615,140 625,120 640,95 670,90 690,78 690,100 660,118 640,140 630,178"/>
<polygon fill="#000" points="512,140 537,142 525,156"/>
<polygon fill="#000" points="368,314 385,314 397,325 385,337 368,337"/>
<polygon fill="#000" points="212,375 240,368 246,385 215,392"/>
<polygon fill="#000" points="255,365 270,360 274,340 281,340 281,375 262,386"/>
<polygon fill="#000" points="-5,640 10,640 10,655 -5,655"/>
<rect x="222" y="376" width="10" height="8" fill="#1e3cff"/>
</svg>
<polyline fill="none" stroke="#000" stroke-width="2.3" points="476,216.5 478.5,215.5 481.2,211.2 485.5,205 490.8,200.7 493.4,196.3 501.3,197.2 507.5,198.9 510,196.3 511.8,199.8 517,202.4 521.5,206.8 519.7,212 515.3,216.4 511,221.7 507.5,225.2 503,226 502.2,232.2"/>
<polyline fill="none" stroke="#000" stroke-width="2.3" points="503,238.5 513.6,237.5"/>
<polyline fill="none" stroke="#000" stroke-width="2.3" points="504.8,240 508.3,243.6 506.6,248"/>
<polyline fill="none" stroke="#000" stroke-width="2.3" points="491.7,251.5 501.3,248.8 510,247 511.8,254 506.6,253.2 497.8,255.8 493.4,257.6 491.7,251.5"/>
<polyline fill="none" stroke="#000" stroke-width="2.3" points="527.6,240 532.9,243.6"/>
<polyline fill="none" stroke="#000" stroke-width="2.3" points="488.4,640.6 483.5,647.1 478.7,656.8 474.7,664.8 470.6,671.3 469,677.7 471.5,682.6 469.8,689 467.4,690.6 471.5,693.9 473.1,700.3 476.3,706 481.1,710.8 483.9,714.8 483.9,721.3 487.6,721.3 488.4,708.4 491.6,701.9 496.5,695.5 500.5,690.6 502.1,682.6 504.5,672.9 505.3,663.2 507.7,658.4 510.2,651.9 511,644.7 511,638"/>
<polyline fill="none" stroke="#000" stroke-width="2.3" points="499,631 506,629.5"/>
<polyline fill="none" stroke="#000" stroke-width="5" points="505,536 504.5,546 497,549.5 487,555.5 483.5,562 481.5,571 476,576 472,582 467,586.5 462,591"/>
<polyline fill="none" stroke="#000" stroke-width="3" points="494,530.5 496.5,533.5 502,534.5"/>
<polyline fill="none" stroke="#000" stroke-width="3" points="493.5,532 507.5,532"/>
<polyline fill="none" stroke="#000" stroke-width="3.5" points="478.7,553 484,553.5"/>
<polygon fill="#000" points="414.3,411.5 420.9,407.5 428.7,404.9 432,406 434,408.8 431.4,416.7 426.1,420.6 419.6,420.6 418.2,415.4"/>
<polygon fill="#000" points="443.2,412.8 448.5,408.8 453.7,414.1 453.7,422 447.1,424.6 444,419.3"/>
<polygon fill="#000" points="476.3,440.8 487.3,441.9 493.9,446.3 502.6,447.4 510.3,452.8 511.4,459.4 504.8,458.3 498.2,455 491.7,452.8 485.1,448.5 476.3,444.1"/>
<polygon fill="#000" points="612.7,308.8 617.3,305.1 626.6,304.2 622.9,308.8 621,313.4 623.8,318.9 624.7,328.1 621,328.1 620.1,322.6 616.4,319.8 615.5,314.3 612.7,313.4"/>
<polygon fill="#000" points="628,305.5 633,304.5 631,309 628.5,309"/>
<polygon fill="#000" points="622.5,328 625,330 630.2,330.9 630.2,335.5 626.6,339.2 623.8,335.5 622.5,333"/>
<polygon fill="#000" points="621,340 627.2,340 627.2,346.5 623,347 621,348.4 620,362.2 617.5,362.2 618,350 619.5,345"/>
<polygon fill="#000" points="610,356.6 623.3,356.6 623.3,358.9 610,358.9"/>
<polygon fill="#000" points="606.6,365 610.5,361 612.2,361 610,366 609.5,371 607.5,371 608,366.5"/>
<polygon fill="#000" points="613.9,372 616,364 620,362.2 625.5,362.5 627,366 625,367.5 625,372 623.3,377 623.3,381.6 620,381.6 620,377 617.7,379.4 612,379.4 610,376.5 612,373.5"/>
<polygon fill="#000" points="625,374.5 628,372.7 632.7,373.5 632.7,376 629,377.2 626,377.2"/>
<polygon fill="#000" points="633.3,366.6 637.7,365 645.5,361.1 654.4,359.4 659,356.5 659.9,367.7 654.4,369.4 653.3,375.5 650.5,375.5 650.5,372.2 645.5,372.2 642.2,375.5 634.4,375.5"/>
<polygon fill="#000" points="661,361.6 666,361.6 666,364.4 661,364.4"/>
<polygon fill="#000" points="456.1,676 459.7,676 459.7,679.4 456.1,679.4"/>
<polygon fill="#000" points="502,717.3 505.8,717.3 505.8,721 502,721"/>
<polygon fill="#000" points="456.3,586.3 469.7,586.3 469.7,592 466,595.4 466,601.4 458.2,601.4 458.2,595.4 456.3,595.4"/>
<polygon fill="#000" points="463.6,603.2 467.8,603.2 467.8,606.9 463.6,606.9"/>
<polygon fill="#000" points="495.2,234 502.2,231.5 503.5,237.5 503,240 496,239.7"/>
<polygon fill="#000" points="508,196 510,193.5 512,196 511,199"/>
<polygon fill="#000" points="498,250 506,248 506,252 499,254"/>
<ellipse cx="434" cy="402.5" rx="4.2" ry="5" fill="none" stroke="#000" stroke-width="2.4"/>
<polyline points="433,408 438,410.5 444,414" fill="none" stroke="#000" stroke-width="2.6"/>
<ellipse cx="521.5" cy="243.2" rx="3.6" ry="3" fill="none" stroke="#000" stroke-width="2.2"/>
</g>
<text class="t" y="23.2" fill="#1c1c1c"><tspan x="392.3" font-size="29.5" textLength="68.6" lengthAdjust="spacingAndGlyphs">2016</tspan><tspan x="461.5" font-size="26.5">年</tspan><tspan x="492" font-size="29.5" textLength="34.3" lengthAdjust="spacingAndGlyphs">12</tspan><tspan x="520.3" font-size="26.5">月</tspan><tspan x="546" font-size="29.5" textLength="34.3" lengthAdjust="spacingAndGlyphs">19</tspan><tspan x="576.5" font-size="26.5">日</tspan><tspan x="601.3" font-size="29.5" textLength="34.3" lengthAdjust="spacingAndGlyphs">00</tspan><tspan x="636" font-size="26.5">时</tspan></text>
<g clip-path="url(#mapclip)">
<g transform="translate(632.1 59.8) skewX(-11)"><text class="lh" text-anchor="middle">哈尔滨</text><text class="lf" text-anchor="middle">哈尔滨</text></g>
<g transform="translate(599.5 111.6) skewX(-11)"><text class="lh" text-anchor="middle">长春</text><text class="lf" text-anchor="middle">长春</text></g>
<g transform="translate(544.6 169.6) skewX(-11)"><text class="lh" text-anchor="middle">沈阳</text><text class="lf" text-anchor="middle">沈阳</text></g>
<g transform="translate(272.6 194.6) skewX(-11)"><text class="lh" text-anchor="middle">呼和浩特</text><text class="lf" text-anchor="middle">呼和浩特</text></g>
<g transform="translate(384.1 226.2) skewX(-11)"><text class="lh lbig" text-anchor="middle">北京</text><text class="lf lbig" text-anchor="middle">北京</text></g>
<g transform="translate(402.1 251.9) skewX(-11)"><text class="lh" text-anchor="middle">天津</text><text class="lf" text-anchor="middle">天津</text></g>
<g transform="translate(591.3 248.5) skewX(-11)"><text class="lh" text-anchor="middle">平壤</text><text class="lf" text-anchor="middle">平壤</text></g>
<g transform="translate(135.8 262.6) skewX(-11)"><text class="lh" text-anchor="middle">银川</text><text class="lf" text-anchor="middle">银川</text></g>
<g transform="translate(340.4 272.8) skewX(-11)"><text class="lh" text-anchor="middle">石家庄</text><text class="lf" text-anchor="middle">石家庄</text></g>
<g transform="translate(289.7 291.2) skewX(-11)"><text class="lh" text-anchor="middle">太原</text><text class="lf" text-anchor="middle">太原</text></g>
<g transform="translate(624.7 300.9) skewX(-11)"><text class="lh" text-anchor="middle">首尔</text><text class="lf" text-anchor="middle">首尔</text></g>
<g transform="translate(30.8 314.8) skewX(-11)"><text class="lh" text-anchor="middle">西宁</text><text class="lf" text-anchor="middle">西宁</text></g>
<g transform="translate(396.2 316.7) skewX(-11)"><text class="lh" text-anchor="middle">济南</text><text class="lf" text-anchor="middle">济南</text></g>
<g transform="translate(79.4 330.9) skewX(-11)"><text class="lh" text-anchor="middle">兰州</text><text class="lf" text-anchor="middle">兰州</text></g>
<g transform="translate(316.4 370.6) skewX(-11)"><text class="lh" text-anchor="middle">郑州</text><text class="lf" text-anchor="middle">郑州</text></g>
<g transform="translate(201.4 382.0) skewX(-11)"><text class="lh" text-anchor="middle">西安</text><text class="lf" text-anchor="middle">西安</text></g>
<g transform="translate(440.2 445.7) skewX(-11)"><text class="lh" text-anchor="middle">南京</text><text class="lf" text-anchor="middle">南京</text></g>
<g transform="translate(402.7 458.9) skewX(-11)"><text class="lh" text-anchor="middle">合肥</text><text class="lf" text-anchor="middle">合肥</text></g>
<g transform="translate(505.6 471.8) skewX(-11)"><text class="lh" text-anchor="middle">上海</text><text class="lf" text-anchor="middle">上海</text></g>
<g transform="translate(85.8 487.3) skewX(-11)"><text class="lh" text-anchor="middle">成都</text><text class="lf" text-anchor="middle">成都</text></g>
<g transform="translate(329.1 488.9) skewX(-11)"><text class="lh" text-anchor="middle">武汉</text><text class="lf" text-anchor="middle">武汉</text></g>
<g transform="translate(468.2 497.9) skewX(-11)"><text class="lh" text-anchor="middle">杭州</text><text class="lf" text-anchor="middle">杭州</text></g>
<g transform="translate(142.5 514.0) skewX(-11)"><text class="lh" text-anchor="middle">重庆</text><text class="lf" text-anchor="middle">重庆</text></g>
<g transform="translate(367.9 540.7) skewX(-11)"><text class="lh" text-anchor="middle">南昌</text><text class="lf" text-anchor="middle">南昌</text></g>
<g transform="translate(297.5 553.5) skewX(-11)"><text class="lh" text-anchor="middle">长沙</text><text class="lf" text-anchor="middle">长沙</text></g>
<g transform="translate(145.5 595.9) skewX(-11)"><text class="lh" text-anchor="middle">贵阳</text><text class="lf" text-anchor="middle">贵阳</text></g>
<g transform="translate(448.0 614.8) skewX(-11)"><text class="lh" text-anchor="middle">福州</text><text class="lf" text-anchor="middle">福州</text></g>
<g transform="translate(52.7 638.0) skewX(-11)"><text class="lh" text-anchor="middle">昆明</text><text class="lf" text-anchor="middle">昆明</text></g>
<g transform="translate(501.2 641.8) skewX(-11)"><text class="lh" text-anchor="middle">台北</text><text class="lf" text-anchor="middle">台北</text></g>
<g transform="translate(188.1 696.8) skewX(-11)"><text class="lh" text-anchor="middle">南宁</text><text class="lf" text-anchor="middle">南宁</text></g>
<g transform="translate(302.2 695.2) skewX(-11)"><text class="lh" text-anchor="middle">广州</text><text class="lf" text-anchor="middle">广州</text></g>
<g transform="translate(330.9 708.5) skewX(-11)"><text class="lh" text-anchor="middle">香港</text><text class="lf" text-anchor="middle">香港</text></g>
<g transform="translate(300.4 722.6) skewX(-11)"><text class="lh" text-anchor="middle">澳门</text><text class="lf" text-anchor="middle">澳门</text></g>
</g>
<g>
<ellipse cx="550.5" cy="691.5" rx="7.3" ry="6" fill="#a9c9e2"/>
<path d="M546 696 l-1.5 3.2 l4 -2 z" fill="#a9c9e2"/>
<ellipse cx="556.3" cy="696.2" rx="5.8" ry="4.7" fill="#f4f7fa"/>
<path d="M559.5 699.8 l1.6 2.4 l-3.6 -1.4 z" fill="#f4f7fa"/>
<circle cx="548" cy="689.6" r="0.9" fill="#5a84b0"/><circle cx="552.8" cy="689.6" r="0.9" fill="#5a84b0"/>
<circle cx="554.4" cy="695" r="0.7" fill="#8a9aa8"/><circle cx="558.2" cy="695" r="0.7" fill="#8a9aa8"/>
<text x="569" y="698.3" font-family="'Liberation Sans',sans-serif" font-style="italic" font-size="14.2" fill="#fff" textLength="66.5" lengthAdjust="spacingAndGlyphs">SPRINTARS</text>
</g>
</svg></body></html>
